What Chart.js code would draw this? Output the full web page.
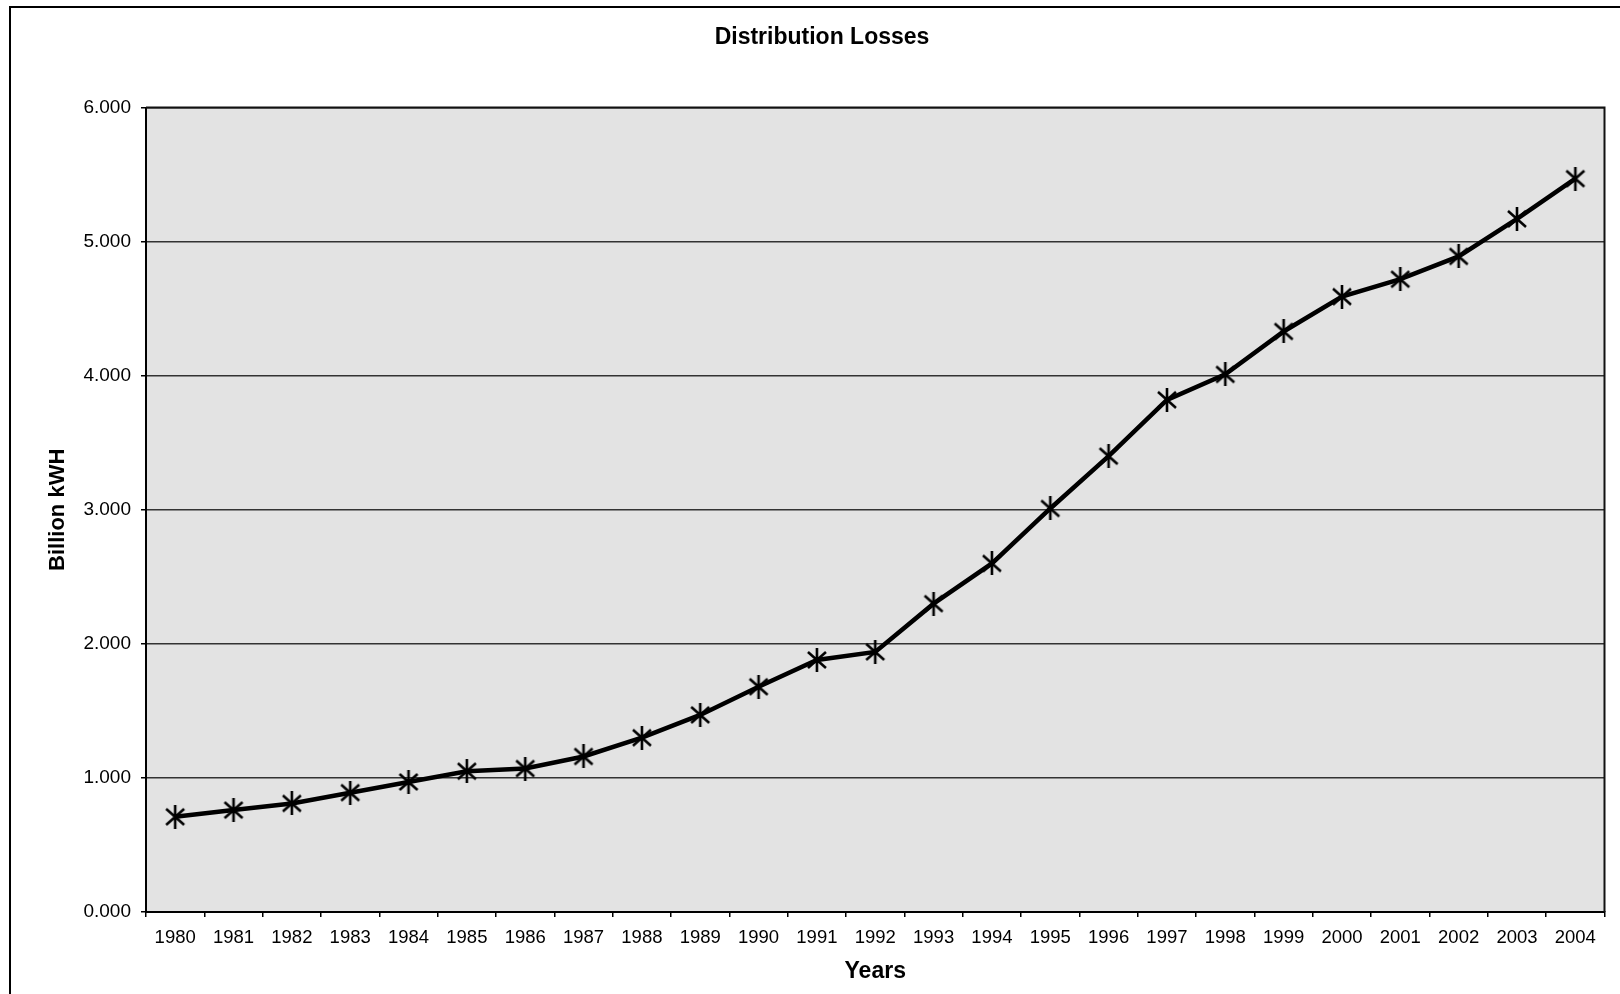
<!DOCTYPE html>
<html>
<head>
<meta charset="utf-8">
<title>Distribution Losses</title>
<script src="https://cdn.jsdelivr.net/npm/chart.js@4.4.1/dist/chart.umd.min.js"></script>
<style>
  html, body { margin: 0; padding: 0; background: #ffffff; overflow: hidden; }
  #wrap { position: relative; width: 1620px; height: 994px; }
</style>
</head>
<body>
<div id="wrap"><canvas id="chart" width="1620" height="994"></canvas></div>
<script>
// Distribution losses per year, billion kWh
const years = ['1980','1981','1982','1983','1984','1985','1986','1987','1988','1989',
               '1990','1991','1992','1993','1994','1995','1996','1997','1998','1999',
               '2000','2001','2002','2003','2004'];
const losses = [0.71, 0.76, 0.81, 0.89, 0.97, 1.05, 1.07, 1.16, 1.30, 1.47,
                1.68, 1.88, 1.94, 2.30, 2.60, 3.01, 3.40, 3.82, 4.01, 4.33,
                4.59, 4.72, 4.89, 5.17, 5.47];
const yTicks = [0, 1, 2, 3, 4, 5, 6];

const FONT = "'Liberation Sans', Arial, Helvetica, sans-serif";

// Six-armed star marker: an X crossed by a vertical stroke
function makeStar() {
  const c = document.createElement('canvas');
  c.width = 22; c.height = 24;
  const g = c.getContext('2d');
  g.strokeStyle = '#000';
  g.lineWidth = 2.6;
  g.lineCap = 'butt';
  g.beginPath();
  g.moveTo(2, 4);  g.lineTo(20, 20);
  g.moveTo(20, 4); g.lineTo(2, 20);
  g.moveTo(11, 0); g.lineTo(11, 24);
  g.stroke();
  return c;
}

// Grey plot area, plot frame and outer frame
const framePlugin = {
  id: 'frames',
  beforeDraw(chart) {
    const { ctx, chartArea: a } = chart;
    ctx.save();
    ctx.fillStyle = '#e3e3e3';
    ctx.fillRect(a.left, a.top, a.right - a.left, a.bottom - a.top);
    ctx.strokeStyle = '#000';
    ctx.lineWidth = 2;
    ctx.beginPath();
    ctx.moveTo(10, chart.height);
    ctx.lineTo(10, 7);
    ctx.lineTo(chart.width, 7);
    ctx.stroke();
    ctx.restore();
  },
  afterDatasetsDraw(chart) {
    const { ctx, chartArea: a } = chart;
    ctx.save();
    ctx.strokeStyle = '#111';
    ctx.lineWidth = 2;
    ctx.beginPath();
    ctx.moveTo(a.left, a.top);
    ctx.lineTo(a.right, a.top);
    ctx.lineTo(a.right, a.bottom);
    ctx.stroke();
    ctx.restore();
  }
};

new Chart(document.getElementById('chart'), {
  type: 'line',
  data: {
    labels: years,
    datasets: [{
      label: 'Distribution Losses',
      data: losses,
      borderColor: '#000',
      backgroundColor: '#000',
      borderWidth: 4.5,
      tension: 0,
      pointStyle: makeStar(),
      pointRadius: 11,
      pointHoverRadius: 11,
      clip: false
    }]
  },
  plugins: [framePlugin],
  options: {
    responsive: false,
    animation: false,
    events: [],
    layout: { padding: { left: 37, right: 13, top: 0, bottom: 0 } },
    plugins: {
      legend: { display: false },
      tooltip: { enabled: false },
      title: {
        display: true,
        text: 'Distribution Losses',
        color: '#000',
        font: { family: FONT, size: 23, weight: 'bold' },
        padding: { top: 24, bottom: 56 }
      }
    },
    scales: {
      x: {
        type: 'category',
        offset: true,
        grid: {
          offset: true,
          drawOnChartArea: false,
          drawTicks: true,
          tickLength: 5,
          color: '#000',
          lineWidth: 1.5
        },
        border: { display: true, color: '#000', width: 2 },
        ticks: {
          color: '#000',
          font: { family: FONT, size: 18.5 },
          padding: 10,
          maxRotation: 0,
          autoSkip: false
        },
        title: {
          display: true,
          text: 'Years',
          color: '#000',
          font: { family: FONT, size: 23, weight: 'bold' },
          padding: { top: 0, bottom: 9 }
        },
        afterFit(scale) { scale.height = 82; }
      },
      y: {
        min: 0,
        max: 6,
        afterBuildTicks(scale) { scale.ticks = yTicks.map(v => ({ value: v })); },
        grid: {
          color: '#333',
          lineWidth: 1.5,
          tickLength: 5,
          tickColor: '#000'
        },
        border: { display: true, color: '#000', width: 2 },
        ticks: {
          color: '#000',
          font: { family: FONT, size: 19 },
          padding: 10,
          callback: v => Number(v).toFixed(3)
        },
        title: {
          display: true,
          text: 'Billion kWH',
          color: '#000',
          font: { family: FONT, size: 22, weight: 'bold' },
          padding: { top: 8, bottom: 0 }
        },
        afterFit(scale) { scale.width = 109; }
      }
    }
  }
});
</script>
</body>
</html>
